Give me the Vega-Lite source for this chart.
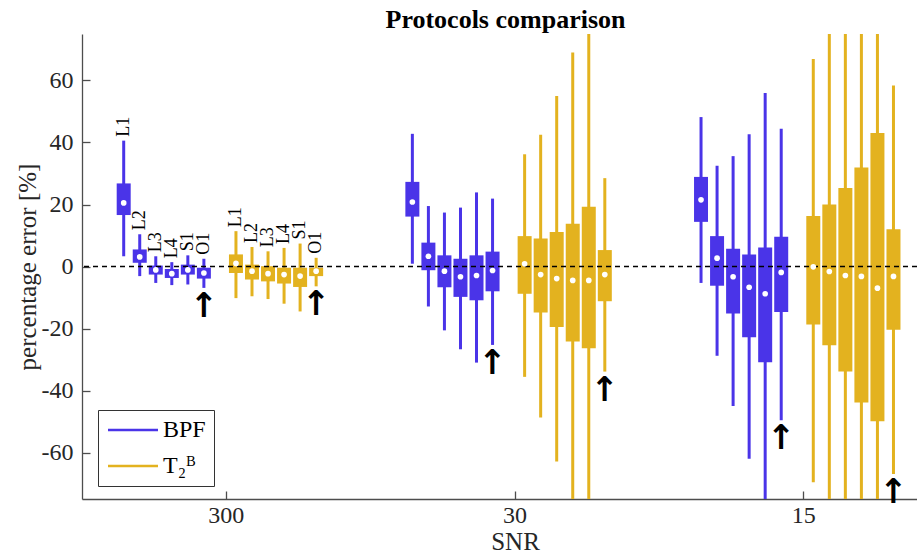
{
  "$schema": "https://vega.github.io/schema/vega-lite/v6.json",
  "width": 835,
  "height": 465,
  "autosize": {"type": "none"},
  "padding": {"left": 82, "top": 34, "right": 0, "bottom": 55},
  "background": "white",
  "title": {"text": "Protocols comparison", "font": "Liberation Serif", "fontSize": 26, "fontWeight": "bold", "color": "black", "anchor": "middle", "offset": 1, "dx": 6},
  "config": {"view": {"stroke": null}, "font": "Liberation Serif"},
  "data": {
    "values": [
      {"snr": "300", "method": "BPF", "id": "BPF L1", "protocol": "L1", "lo": 3.3, "q1": 16.6, "med": 20.5, "q3": 26.8, "hi": 40.6},
      {"snr": "300", "method": "BPF", "id": "BPF L2", "protocol": "L2", "lo": -3.1, "q1": 1.2, "med": 3.1, "q3": 5.5, "hi": 10.4},
      {"snr": "300", "method": "BPF", "id": "BPF L3", "protocol": "L3", "lo": -5.3, "q1": -2.6, "med": -1.1, "q3": 0.3, "hi": 3.3},
      {"snr": "300", "method": "BPF", "id": "BPF L4", "protocol": "L4", "lo": -6.0, "q1": -3.7, "med": -2.3, "q3": -0.8, "hi": 1.4},
      {"snr": "300", "method": "BPF", "id": "BPF S1", "protocol": "S1", "lo": -5.8, "q1": -2.6, "med": -1.1, "q3": 0.6, "hi": 3.6},
      {"snr": "300", "method": "BPF", "id": "BPF O1", "protocol": "O1", "lo": -6.9, "q1": -3.9, "med": -2.1, "q3": -0.4, "hi": 2.5},
      {"snr": "300", "method": "T2B", "id": "T2B L1", "protocol": "L1", "lo": -10.2, "q1": -2.1, "med": 1.0, "q3": 3.9, "hi": 11.4},
      {"snr": "300", "method": "T2B", "id": "T2B L2", "protocol": "L2", "lo": -9.6, "q1": -4.2, "med": -1.5, "q3": 0.6, "hi": 6.3},
      {"snr": "300", "method": "T2B", "id": "T2B L3", "protocol": "L3", "lo": -10.5, "q1": -4.8, "med": -2.3, "q3": 0.1, "hi": 4.9},
      {"snr": "300", "method": "T2B", "id": "T2B L4", "protocol": "L4", "lo": -12.0, "q1": -5.5, "med": -2.6, "q3": -0.4, "hi": 6.0},
      {"snr": "300", "method": "T2B", "id": "T2B S1", "protocol": "S1", "lo": -14.5, "q1": -6.6, "med": -3.1, "q3": -0.4, "hi": 7.4},
      {"snr": "300", "method": "T2B", "id": "T2B O1", "protocol": "O1", "lo": -6.4, "q1": -3.1, "med": -1.5, "q3": -0.4, "hi": 2.8},
      {"snr": "30", "method": "BPF", "id": "BPF L1", "protocol": "L1", "lo": 0.9, "q1": 16.1, "med": 20.8, "q3": 27.3, "hi": 42.8},
      {"snr": "30", "method": "BPF", "id": "BPF L2", "protocol": "L2", "lo": -12.9, "q1": -1.2, "med": 3.3, "q3": 7.7, "hi": 19.5},
      {"snr": "30", "method": "BPF", "id": "BPF L3", "protocol": "L3", "lo": -20.6, "q1": -6.7, "med": -1.5, "q3": 3.6, "hi": 17.4},
      {"snr": "30", "method": "BPF", "id": "BPF L4", "protocol": "L4", "lo": -26.7, "q1": -9.8, "med": -3.3, "q3": 2.5, "hi": 19.0},
      {"snr": "30", "method": "BPF", "id": "BPF S1", "protocol": "S1", "lo": -31.0, "q1": -10.9, "med": -2.9, "q3": 3.6, "hi": 23.9},
      {"snr": "30", "method": "BPF", "id": "BPF O1", "protocol": "O1", "lo": -25.3, "q1": -8.0, "med": -1.3, "q3": 4.8, "hi": 21.9},
      {"snr": "30", "method": "T2B", "id": "T2B L1", "protocol": "L1", "lo": -35.6, "q1": -8.8, "med": 0.9, "q3": 9.8, "hi": 36.2},
      {"snr": "30", "method": "T2B", "id": "T2B L2", "protocol": "L2", "lo": -48.7, "q1": -14.8, "med": -2.6, "q3": 9.0, "hi": 42.5},
      {"snr": "30", "method": "T2B", "id": "T2B L3", "protocol": "L3", "lo": -62.9, "q1": -19.5, "med": -3.9, "q3": 11.1, "hi": 55.0},
      {"snr": "30", "method": "T2B", "id": "T2B L4", "protocol": "L4", "lo": -90, "q1": -24.2, "med": -4.5, "q3": 13.8, "hi": 69.0},
      {"snr": "30", "method": "T2B", "id": "T2B S1", "protocol": "S1", "lo": -90, "q1": -26.4, "med": -4.5, "q3": 19.3, "hi": 90},
      {"snr": "30", "method": "T2B", "id": "T2B O1", "protocol": "O1", "lo": -33.9, "q1": -11.2, "med": -2.6, "q3": 5.3, "hi": 28.5},
      {"snr": "15", "method": "BPF", "id": "BPF L1", "protocol": "L1", "lo": -5.3, "q1": 14.4, "med": 21.5, "q3": 28.9, "hi": 48.2},
      {"snr": "15", "method": "BPF", "id": "BPF L2", "protocol": "L2", "lo": -28.8, "q1": -6.2, "med": 2.7, "q3": 9.8, "hi": 32.5},
      {"snr": "15", "method": "BPF", "id": "BPF L3", "protocol": "L3", "lo": -45.0, "q1": -15.2, "med": -3.3, "q3": 5.7, "hi": 35.6},
      {"snr": "15", "method": "BPF", "id": "BPF L4", "protocol": "L4", "lo": -62.0, "q1": -22.8, "med": -6.7, "q3": 3.9, "hi": 42.7},
      {"snr": "15", "method": "BPF", "id": "BPF S1", "protocol": "S1", "lo": -90, "q1": -30.9, "med": -8.8, "q3": 6.1, "hi": 56.0},
      {"snr": "15", "method": "BPF", "id": "BPF O1", "protocol": "O1", "lo": -49.6, "q1": -14.7, "med": -1.9, "q3": 9.6, "hi": 44.4},
      {"snr": "15", "method": "T2B", "id": "T2B L1", "protocol": "L1", "lo": -69.6, "q1": -18.7, "med": -0.1, "q3": 16.3, "hi": 66.9},
      {"snr": "15", "method": "T2B", "id": "T2B L2", "protocol": "L2", "lo": -90, "q1": -25.4, "med": -1.6, "q3": 20.0, "hi": 90},
      {"snr": "15", "method": "T2B", "id": "T2B L3", "protocol": "L3", "lo": -90, "q1": -33.9, "med": -2.9, "q3": 25.3, "hi": 90},
      {"snr": "15", "method": "T2B", "id": "T2B L4", "protocol": "L4", "lo": -90, "q1": -43.9, "med": -3.2, "q3": 31.9, "hi": 90},
      {"snr": "15", "method": "T2B", "id": "T2B S1", "protocol": "S1", "lo": -90, "q1": -49.9, "med": -7.0, "q3": 43.1, "hi": 90},
      {"snr": "15", "method": "T2B", "id": "T2B O1", "protocol": "O1", "lo": -66.9, "q1": -20.4, "med": -3.2, "q3": 12.0, "hi": 58.4}
    ]
  },
  "encoding": {
    "x": {
      "field": "snr", "type": "nominal",
      "scale": {"domain": ["300", "30", "15"], "range": [0, 866], "paddingInner": 0, "paddingOuter": 0},
      "axis": {"title": "SNR", "labelAngle": 0, "labelFont": "Liberation Serif", "labelFontSize": 24, "labelColor": "#262626", "titleFont": "Liberation Serif", "titleFontSize": 25, "titleFontWeight": "normal", "titleColor": "#262626", "domainColor": "#4d4d4d", "tickColor": "#4d4d4d", "tickSize": -8, "labelPadding": 12, "titlePadding": 2, "domainWidth": 1.3, "tickWidth": 1.3}
    },
    "xOffset": {
      "field": "id", "type": "nominal",
      "scale": {"domain": ["pad a", "pad b", "BPF L1", "BPF L2", "BPF L3", "BPF L4", "BPF S1", "BPF O1", "gap", "T2B L1", "T2B L2", "T2B L3", "T2B L4", "T2B S1", "T2B O1", "pad c", "pad d"], "paddingInner": 0, "paddingOuter": 0.5, "align": 0.1}
    },
    "y": {
      "type": "quantitative",
      "scale": {"domain": [-75, 75], "nice": false, "zero": false},
      "axis": {"title": "percentage error [%]", "values": [-60, -40, -20, 0, 20, 40, 60], "labelExpr": "replace(datum.label, '−', '-')", "grid": false, "labelFont": "Liberation Serif", "labelFontSize": 24, "labelColor": "#262626", "titleFont": "Liberation Serif", "titleFontSize": 25, "titleFontWeight": "normal", "titleColor": "#262626", "domainColor": "#4d4d4d", "tickColor": "#4d4d4d", "tickSize": -8, "labelPadding": 17, "titlePadding": 1, "domainWidth": 1.3, "tickWidth": 1.3}
    }
  },
  "layer": [
    {
      "mark": {"type": "rule", "strokeWidth": 3, "clip": true},
      "encoding": {
        "y": {"field": "lo", "type": "quantitative"},
        "y2": {"field": "hi"},
        "color": {
          "field": "method", "type": "nominal",
          "scale": {"domain": ["BPF", "T2B"], "range": ["#4a34e8", "#e3b21f"]},
          "legend": {"orient": "none", "legendX": 16, "legendY": 376, "direction": "vertical", "title": null, "symbolType": "M-1,0H4", "symbolSize": 400, "symbolStrokeWidth": 2.5, "labelFont": "Liberation Serif", "labelFontSize": 24, "labelColor": "black", "labelOffset": 33, "strokeColor": "#333333", "fillColor": "white", "padding": 8, "rowPadding": 12, "labelExpr": "datum.label == 'T2B' ? 'T₂ᴮ' : datum.label"}
        }
      }
    },
    {
      "mark": {"type": "bar", "width": 14, "clip": true},
      "encoding": {
        "y": {"field": "q1", "type": "quantitative"},
        "y2": {"field": "q3"},
        "color": {"field": "method", "type": "nominal", "legend": null}
      }
    },
    {
      "data": {"values": [{"zero": 0}]},
      "mark": {"type": "rule", "color": "black", "strokeDash": [5, 4], "strokeWidth": 1.3},
      "encoding": {"x": null, "xOffset": null, "y": {"field": "zero", "type": "quantitative"}}
    },
    {
      "mark": {"type": "point", "filled": true, "color": "white", "opacity": 1, "size": 32},
      "encoding": {"y": {"field": "med", "type": "quantitative"}}
    },
    {
      "transform": [{"filter": "datum.snr == '300'"}],
      "mark": {"type": "text", "angle": 270, "align": "left", "baseline": "middle", "dx": 4, "font": "Liberation Serif", "fontSize": 18, "color": "black"},
      "encoding": {"y": {"field": "hi", "type": "quantitative"}, "text": {"field": "protocol"}}
    },
    {
      "transform": [{"filter": "datum.protocol == 'O1'"}],
      "mark": {"type": "text", "text": "↑", "baseline": "top", "align": "center", "dy": 2, "font": "DejaVu Sans", "fontWeight": "bold", "fontSize": 34, "color": "black"},
      "encoding": {"y": {"field": "lo", "type": "quantitative"}}
    }
  ]
}
